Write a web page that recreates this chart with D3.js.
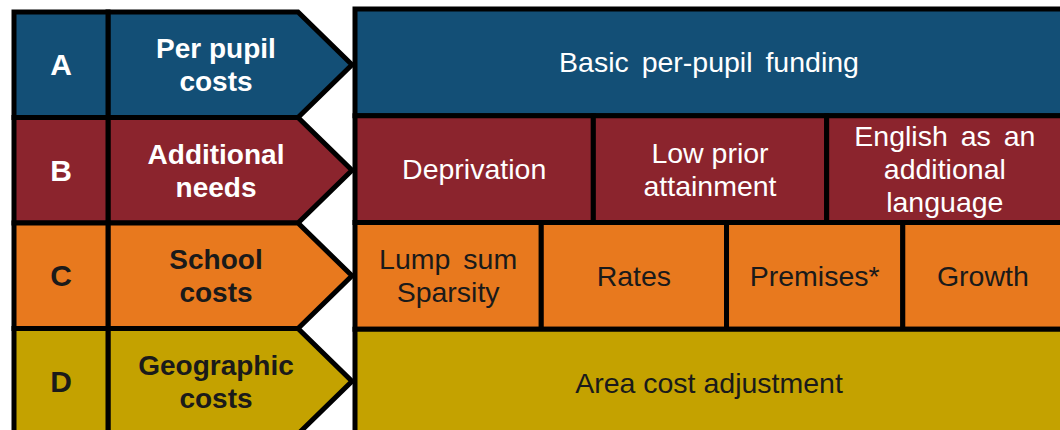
<!DOCTYPE html>
<html>
<head>
<meta charset="utf-8">
<script src="https://cdn.jsdelivr.net/npm/d3@7"></script>
<style>
  body { margin: 0; background: #fff; }
  svg { display: block; font-family: "Liberation Sans", Arial, sans-serif; }
</style>
</head>
<body>
<svg width="1060" height="430"></svg>
<script>
// rows of the funding formula
var rowKeys = ["A", "B", "C", "D"];
var rowLabels = ["Per pupil|costs", "Additional|needs", "School|costs", "Geographic|costs"];
var rowColors = ["#134f76", "#8b242d", "#e8791e", "#c4a200"];
var rowInk = ["#ffffff", "#ffffff", "#1a1a1a", "#1a1a1a"];

// factors in each row ("|" = line break) and their relative widths
var factorsA = ["Basic per-pupil funding"];
var factorsB = ["Deprivation", "Low prior|attainment", "English as an|additional|language"];
var factorsC = ["Lump sum|Sparsity", "Rates", "Premises*", "Growth"];
var factorsD = ["Area cost adjustment"];
var widthsA = [707];
var widthsB = [238, 233, 236];
var widthsC = [186, 185, 176, 160];
var widthsD = [707];
// the wide word gaps in the original
var wideGaps = ["Basic per-pupil funding", "English as an|additional|language", "Lump sum|Sparsity"];

var factors = [factorsA, factorsB, factorsC, factorsD];
var widths = [widthsA, widthsB, widthsC, widthsD];

var svg = d3.select("svg");
var stroke = "#000", sw = 5, lineH = 33;

// left block geometry
var xLetter0 = 14, xLetter1 = 108, xShoulder = 298, xTip = 352;
var yLeft = d3.scaleBand().domain(rowKeys).range([12, 434]);
// right panel
var yRight = d3.scaleBand().domain(rowKeys).range([9, 436]);

function multiline(sel, txt, x, yc) {
  var lines = txt.split("|");
  var t = sel.append("text")
    .attr("text-anchor", "middle")
    .attr("x", x)
    .attr("y", yc - (lines.length - 1) * lineH / 2)
    .attr("dy", "0.35em");
  lines.forEach(function(l, i) {
    t.append("tspan")
      .attr("x", x)
      .attr("dy", i === 0 ? "0.35em" : lineH)
      .text(l);
  });
  return t;
}

var left = svg.append("g").attr("class", "left");

rowKeys.forEach(function(k, i) {
  var y0 = yLeft(k), y1 = y0 + yLeft.bandwidth(), ym = (y0 + y1) / 2;
  var g = left.append("g");

  g.append("path")
    .attr("d", "M" + xLetter1 + "," + y0 + "L" + xShoulder + "," + y0 + "L" + xTip + "," + ym +
      "L" + xShoulder + "," + y1 + "L" + xLetter1 + "," + y1 + "Z")
    .attr("fill", rowColors[i])
    .attr("stroke", stroke)
    .attr("stroke-width", sw)
    .attr("stroke-linejoin", "miter");

  g.append("rect")
    .attr("x", xLetter0).attr("y", y0)
    .attr("width", xLetter1 - xLetter0).attr("height", y1 - y0)
    .attr("fill", rowColors[i])
    .attr("stroke", stroke)
    .attr("stroke-width", sw);

  g.append("text")
    .attr("x", (xLetter0 + xLetter1) / 2)
    .attr("y", ym)
    .attr("dy", "0.35em")
    .attr("text-anchor", "middle")
    .attr("font-size", 30)
    .attr("font-weight", "bold")
    .attr("fill", rowInk[i])
    .text(k);

  multiline(g, rowLabels[i], 216, ym)
    .attr("font-size", 28)
    .attr("font-weight", "bold")
    .attr("fill", rowInk[i]);
});

var right = svg.append("g").attr("class", "right");

rowKeys.forEach(function(k, i) {
  var x = d3.scaleLinear().domain([0, d3.sum(widths[i])]).range([355, 1063]);
  var cum = d3.cumsum(widths[i]);
  var y0 = yRight(k), h = yRight.bandwidth();

  var cells = right.append("g")
    .selectAll("g")
    .data(factors[i])
    .enter().append("g");

  cells.append("rect")
    .attr("x", function(d, j) { return x(cum[j] - widths[i][j]); })
    .attr("y", y0)
    .attr("width", function(d, j) { return x(cum[j]) - x(cum[j] - widths[i][j]); })
    .attr("height", h)
    .attr("fill", rowColors[i])
    .attr("stroke", stroke)
    .attr("stroke-width", sw);

  cells.each(function(d, j) {
    var xc = (x(cum[j] - widths[i][j]) + x(cum[j])) / 2;
    multiline(d3.select(this), d, xc, y0 + h / 2)
      .attr("font-size", 28.5)
      .attr("word-spacing", wideGaps.indexOf(d) >= 0 ? 5 : 0)
      .attr("fill", rowInk[i]);
  });
});
</script>
</body>
</html>
